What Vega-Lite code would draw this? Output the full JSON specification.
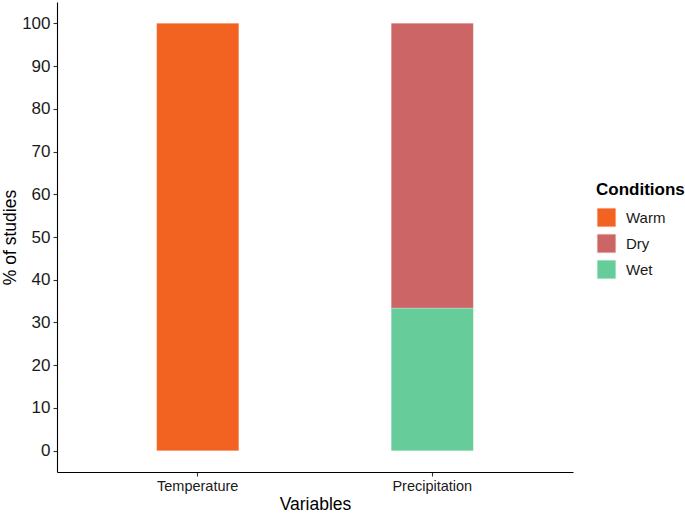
{
  "$schema": "https://vega.github.io/schema/vega-lite/v6.json",
  "width": 516,
  "height": 470,
  "autosize": "none",
  "padding": {"left": 57, "top": 2, "right": 112, "bottom": 41},
  "background": "white",
  "config": {
    "view": {"stroke": null},
    "font": "Liberation Sans",
    "axis": {"grid": false, "domainColor": "#000000", "domainWidth": 1.1, "tickColor": "#333333", "tickWidth": 1.1, "tickSize": 4, "labelColor": "#1a1a1a", "titleColor": "#000000", "titleFontWeight": "normal"}
  },
  "data": {
    "values": [
      {"Variable": "Temperature", "Condition": "Warm", "pct": 100},
      {"Variable": "Precipitation", "Condition": "Dry", "pct": 66.67},
      {"Variable": "Precipitation", "Condition": "Wet", "pct": 33.33}
    ]
  },
  "mark": {"type": "bar", "stroke": "white", "strokeWidth": 0.4, "strokeOpacity": 0.5},
  "encoding": {
    "x": {
      "field": "Variable", "type": "nominal", "sort": ["Temperature", "Precipitation"],
      "scale": {"paddingInner": 0.65, "paddingOuter": 0.425},
      "axis": {"title": "Variables", "labelAngle": 0, "labelFontSize": 14.5, "labelPadding": 3, "titleFontSize": 17.5, "titlePadding": 3}
    },
    "y": {
      "field": "pct", "type": "quantitative", "stack": "zero",
      "scale": {"domain": [-5, 105], "nice": false, "zero": false},
      "axis": {"title": "% of studies", "values": [0,10,20,30,40,50,60,70,80,90,100], "labelFontSize": 17, "labelPadding": 3, "titleFontSize": 17.5, "titlePadding": 2}
    },
    "color": {
      "field": "Condition", "type": "nominal",
      "scale": {"domain": ["Warm", "Dry", "Wet"], "range": ["#F26322", "#CC6666", "#66CC99"]},
      "legend": {
        "title": "Conditions", "orient": "none", "legendX": 539, "legendY": 180,
        "titleFontSize": 17, "titleFontWeight": "bold", "titleColor": "#000000", "titlePadding": 8,
        "labelFontSize": 15, "labelColor": "#1a1a1a", "labelOffset": 9,
        "symbolType": "square", "symbolSize": 370, "symbolStrokeColor": "white", "symbolStrokeWidth": 1, "symbolOpacity": 1, "rowPadding": 1
      }
    },
    "order": {"field": "Condition", "sort": "descending"}
  }
}
